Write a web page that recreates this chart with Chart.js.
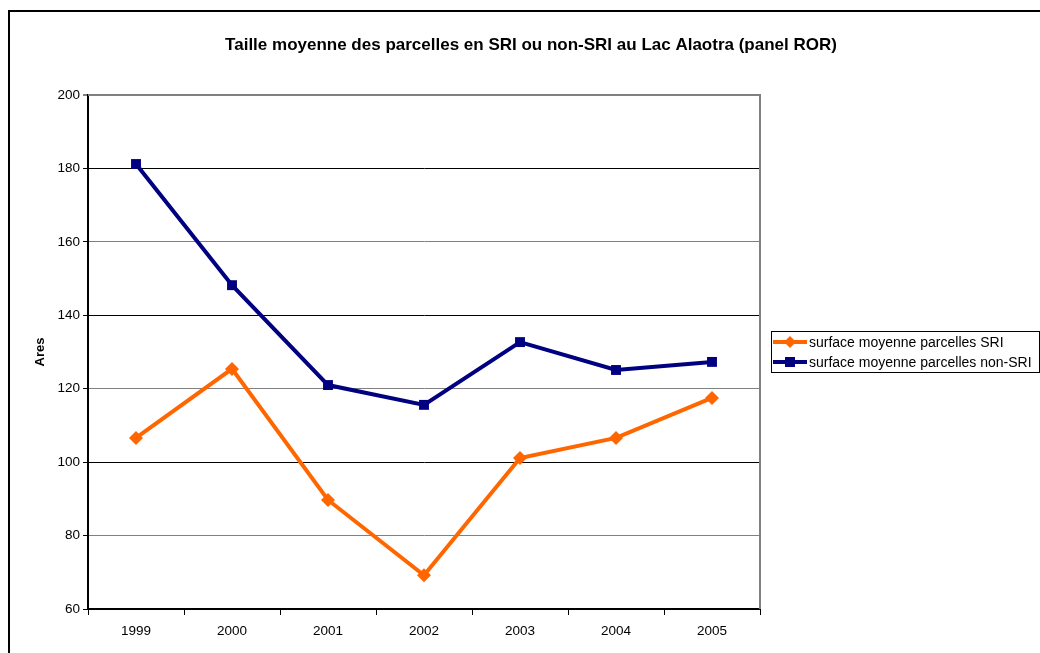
<!DOCTYPE html>
<html>
<head>
<meta charset="utf-8">
<script src="https://cdn.jsdelivr.net/npm/chart.js@4.4.1/dist/chart.umd.min.js"></script>
<style>
html,body{margin:0;padding:0;background:#fff;}
#wrap{width:1040px;height:653px;position:relative;}
</style>
</head>
<body>
<div id="wrap"><canvas id="c" width="1040" height="653"></canvas></div>
<script>
const categories = ['1999','2000','2001','2002','2003','2004','2005'];
const sriValues = [106.6, 125.4, 89.7, 69.2, 101.1, 106.6, 117.5];
const nonSriValues = [181.2, 148.2, 121.0, 115.6, 132.7, 125.1, 127.3];
const seriesLabels = ['surface moyenne parcelles SRI', 'surface moyenne parcelles non-SRI'];
const titleText = 'Taille moyenne des parcelles en SRI ou non-SRI au Lac Alaotra (panel ROR)';
const yTitle = 'Ares';

const FONT = 'Arial, "Liberation Sans", sans-serif';

const decorPlugin = {
  id: 'decor',
  beforeDraw(chart) {
    const ctx = chart.ctx;
    ctx.save();
    ctx.fillStyle = '#fff';
    ctx.fillRect(0, 0, chart.width, chart.height);
    ctx.strokeStyle = '#000';
    ctx.lineWidth = 2;
    ctx.beginPath();
    ctx.moveTo(9, 700);
    ctx.lineTo(9, 11);
    ctx.lineTo(1045, 11);
    ctx.stroke();
    ctx.restore();
  },
  afterDraw(chart) {
    const ctx = chart.ctx;
    const a = chart.chartArea;
    ctx.save();
    // title
    ctx.fillStyle = '#000';
    ctx.font = 'bold 17px ' + FONT;
    ctx.textAlign = 'center';
    ctx.textBaseline = 'middle';
    ctx.fillText(titleText, 531, 45);
    // plot area top/right border (gray)
    ctx.strokeStyle = '#808080';
    ctx.lineWidth = 2;
    ctx.beginPath();
    ctx.moveTo(a.left, a.top);
    ctx.lineTo(a.right, a.top);
    ctx.lineTo(a.right, a.bottom);
    ctx.stroke();
    // legend
    const bx = 771, by = 331, bw = 268, bh = 41;
    ctx.strokeStyle = '#000';
    ctx.lineWidth = 1;
    ctx.strokeRect(bx + 0.5, by + 0.5, bw, bh);
    const rows = [342, 362];
    chart.data.datasets.forEach((ds, i) => {
      const y = rows[i];
      ctx.strokeStyle = ds.borderColor;
      ctx.lineWidth = 4;
      ctx.beginPath();
      ctx.moveTo(773, y);
      ctx.lineTo(807, y);
      ctx.stroke();
      ctx.fillStyle = ds.borderColor;
      if (ds.pointStyle === 'rectRot') {
        ctx.beginPath();
        ctx.moveTo(790, y - 6);
        ctx.lineTo(796, y);
        ctx.lineTo(790, y + 6);
        ctx.lineTo(784, y);
        ctx.closePath();
        ctx.fill();
      } else {
        ctx.fillRect(785, y - 5, 10, 10);
      }
      ctx.fillStyle = '#000';
      ctx.font = '14px ' + FONT;
      ctx.textBaseline = 'middle';
      ctx.textAlign = 'left';
      ctx.fillText(ds.label, 809, y + 1);
    });
    ctx.restore();
  }
};

new Chart(document.getElementById('c'), {
  type: 'line',
  data: {
    labels: categories,
    datasets: [
      {
        label: seriesLabels[0],
        data: sriValues,
        borderColor: '#FF6600',
        backgroundColor: '#FF6600',
        borderWidth: 4,
        pointStyle: 'rectRot',
        pointRadius: 7,
        pointHoverRadius: 7,
        pointBorderWidth: 0,
        tension: 0
      },
      {
        label: seriesLabels[1],
        data: nonSriValues,
        borderColor: '#000080',
        backgroundColor: '#000080',
        borderWidth: 4,
        pointStyle: 'rect',
        pointRadius: 7,
        pointHoverRadius: 7,
        pointBorderWidth: 0,
        tension: 0
      }
    ]
  },
  options: {
    responsive: false,
    animation: false,
    devicePixelRatio: 1,
    layout: { padding: { left: 0, right: 280, top: 95, bottom: 0 } },
    plugins: {
      legend: { display: false },
      tooltip: { enabled: false },
      title: { display: false }
    },
    scales: {
      x: {
        type: 'category',
        offset: true,
        grid: {
          offset: true,
          drawOnChartArea: false,
          drawTicks: true,
          tickLength: 6,
          tickColor: '#000',
          tickWidth: 1
        },
        border: { display: true, color: '#000', width: 2 },
        ticks: {
          color: '#000',
          font: { family: FONT, size: 13.5 },
          padding: 8,
          maxRotation: 0
        },
        afterFit(scale) { scale.height = 44; }
      },
      y: {
        min: 60,
        max: 200,
        ticks: {
          stepSize: 20,
          color: '#000',
          font: { family: FONT, size: 13.5 },
          padding: 3
        },
        grid: {
          drawOnChartArea: true,
          color: (c) => (c.tick && ((c.tick.value - 60) / 20) % 2 === 0) ? '#000' : '#808080',
          lineWidth: (c) => (c.tick && c.tick.value === 200) ? 0 : 1,
          tickLength: 5,
          tickColor: '#000',
          tickWidth: 1
        },
        border: { display: true, color: '#000', width: 2 },
        title: {
          display: true,
          text: yTitle,
          color: '#000',
          font: { family: FONT, size: 13, weight: 'bold' },
          padding: { top: 33, bottom: 0 }
        },
        afterFit(scale) { scale.width = 88; }
      }
    }
  },
  plugins: [decorPlugin]
});
</script>
</body>
</html>
